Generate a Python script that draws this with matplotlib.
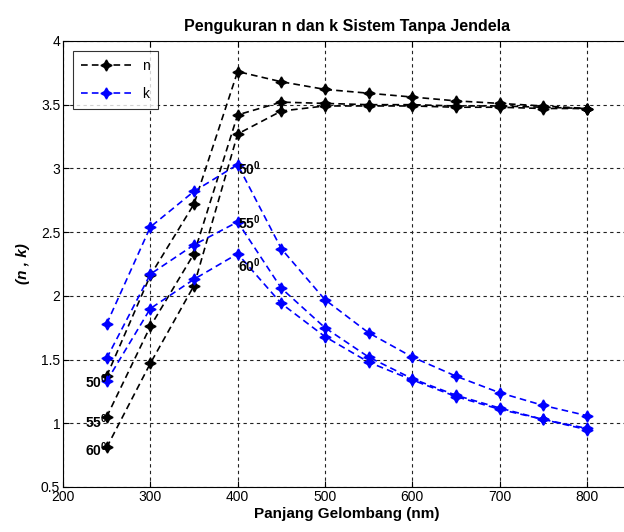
import matplotlib.pyplot as plt

# panjang gelombang (nm)
wavelength = [250, 300, 350, 400, 450, 500, 550, 600, 650, 700, 750, 800]

# indeks bias n untuk sudut 50, 55, 60 derajat
n_50 = [1.37, 2.16, 2.72, 3.76, 3.68, 3.62, 3.59, 3.56, 3.53, 3.51, 3.49, 3.47]
n_55 = [1.05, 1.76, 2.33, 3.42, 3.52, 3.51, 3.50, 3.50, 3.49, 3.49, 3.48, 3.47]
n_60 = [0.81, 1.47, 2.08, 3.27, 3.45, 3.49, 3.49, 3.49, 3.48, 3.48, 3.47, 3.47]

# koefisien ekstingsi k
k_50 = [1.78, 2.54, 2.82, 3.03, 2.37, 1.97, 1.71, 1.52, 1.37, 1.24, 1.14, 1.06]
k_55 = [1.51, 2.17, 2.40, 2.58, 2.06, 1.75, 1.52, 1.35, 1.22, 1.12, 1.03, 0.96]
k_60 = [1.33, 1.90, 2.13, 2.33, 1.94, 1.68, 1.48, 1.34, 1.21, 1.11, 1.03, 0.95]

angle_labels = ['50', '55', '60']
left_label_pos = [(225, 1.33), (225, 1.01), (225, 0.79)]
peak_label_pos = [(400, 3.0), (400, 2.57), (400, 2.24)]

plt.rcParams['font.family'] = ['Liberation Sans', 'DejaVu Sans']
plt.rcParams['mathtext.fontset'] = 'custom'
plt.rcParams['mathtext.bf'] = 'Liberation Sans:bold'

fig = plt.figure(figsize=(6.24, 5.32), dpi=100)
ax = fig.add_axes([0.101, 0.0846, 0.9094, 0.8384])

star = (4, 1, 0)
dash = (0, (4, 2.5))
for i, y in enumerate([n_50, n_55, n_60]):
    ax.plot(wavelength, y, color='black', linestyle=dash, linewidth=1.2,
            marker=star, markersize=8, label='n' if i == 0 else None)
for i, y in enumerate([k_50, k_55, k_60]):
    ax.plot(wavelength, y, color='blue', linestyle=dash, linewidth=1.2,
            marker=star, markersize=8, label='k' if i == 0 else None)

for lab, (x, y) in zip(angle_labels, left_label_pos):
    ax.text(x, y, r'$\mathbf{%s^{0}}$' % lab, fontsize=10, va='center', ha='left')
for lab, (x, y) in zip(angle_labels, peak_label_pos):
    ax.text(x, y, r'$\mathbf{%s^{0}}$' % lab, fontsize=10, va='center', ha='left')

ax.set_xlim(200, 850)
ax.set_ylim(0.5, 4)
ax.set_xticks([200, 300, 400, 500, 600, 700, 800])
ax.set_yticks([0.5, 1, 1.5, 2, 2.5, 3, 3.5, 4])
ax.set_yticklabels(['0.5', '1', '1.5', '2', '2.5', '3', '3.5', '4'])
ax.tick_params(direction='in', top=True, right=True, labelsize=10, length=4, pad=2)
ax.grid(True, color='#222222', linestyle=(0, (3, 3)), linewidth=0.8)

ax.set_title('Pengukuran n dan k Sistem Tanpa Jendela', fontsize=11.5, fontweight='bold', pad=7)
ax.set_xlabel('Panjang Gelombang (nm)', fontsize=11, fontweight='bold', labelpad=2)
ax.set_ylabel('(n , k)', fontsize=11, fontweight='bold', style='italic', labelpad=8)

leg = ax.legend(loc='upper left', fontsize=10, frameon=True, fancybox=False,
                edgecolor='black', handlelength=3.6, labelspacing=1.0,
                borderpad=0.6, borderaxespad=0.7)
leg.get_frame().set_linewidth(0.8)

plt.savefig('out.png', dpi=100)
